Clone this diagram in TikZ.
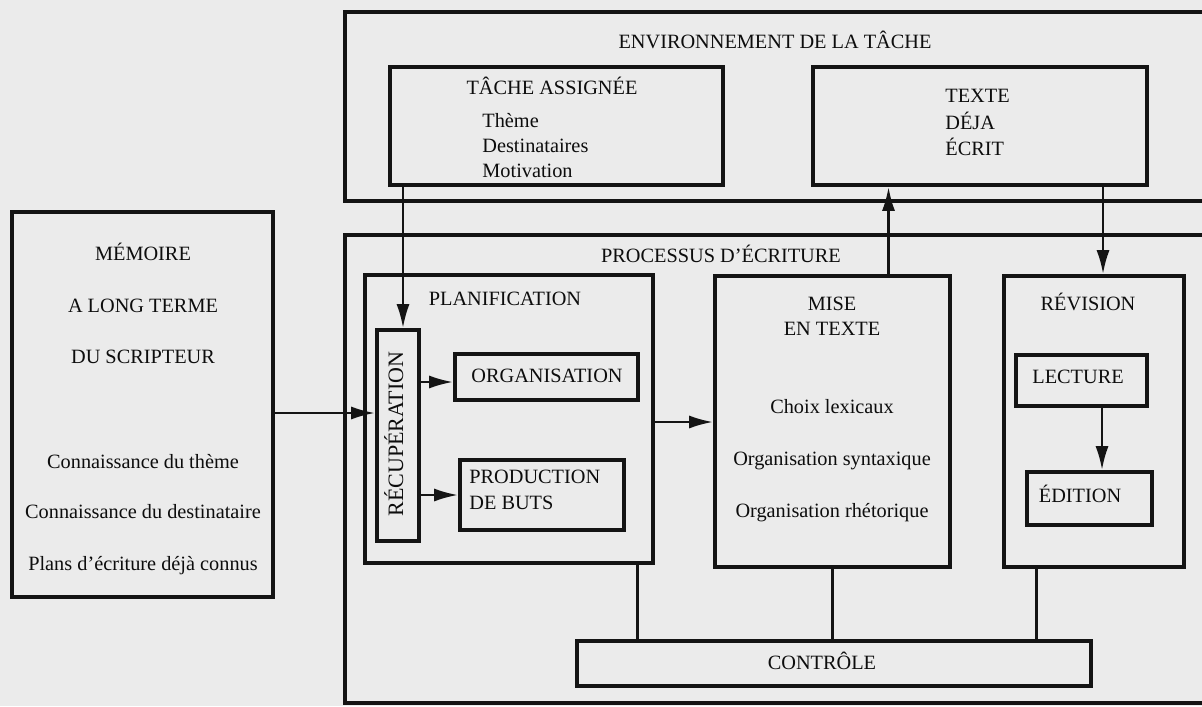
\documentclass[tikz,border=0pt]{standalone}
\usepackage{fontspec}
\setmainfont{Liberation Serif}
\usetikzlibrary{fit,arrows.meta,calc}
\begin{document}
\begin{tikzpicture}[x=0.5pt,y=-0.5pt,
  box/.style={draw=black!92, line width=1.8pt, inner sep=0pt},
  outer/.style={draw=black!92, line width=2pt},
  lbl/.style={inner sep=0pt, text=black!95, font=\fontsize{10.15}{12}\selectfont, text height=0.7em, text depth=0.2em},
  arr/.style={draw=black!92, line width=1.35pt, -{Latex[length=12pt,width=6.5pt]}},
  ln/.style={draw=black!92, line width=1.35pt}]
\fill[black!8] (0,0) rectangle (1202,706);
\useasboundingbox (0,0) rectangle (1202,706);

% environment of the task
\draw[outer] (1202,12) -- (345,12) -- (345,201) -- (1202,201);
\node[lbl] (envtitle) at (775,44) {ENVIRONNEMENT DE LA TÂCHE};

\node[box, fit={(390,67) (723,185)}] (tache) {};
\node[lbl] (tachetitle) at (552,90) {TÂCHE ASSIGNÉE};
\node[lbl, anchor=west] (theme) at (482,122) {Thème};
\node[lbl, anchor=west] (dest) at (482,147) {Destinataires};
\node[lbl, anchor=west] (motiv) at (482,172) {Motivation};

\node[box, fit={(813,67) (1147,185)}] (texte) {};
\node[lbl, anchor=west] (t1) at (945,98) {TEXTE};
\node[lbl, anchor=west] (t2) at (945,124) {DÉJA};
\node[lbl, anchor=west] (t3) at (945,150) {ÉCRIT};

% long term memory
\node[box, fit={(12,212) (273,597)}] (memoire) {};
\node[lbl] (m1) at (143,255) {MÉMOIRE};
\node[lbl] (m2) at (143,307) {A LONG TERME};
\node[lbl] (m3) at (143,358) {DU SCRIPTEUR};
\node[lbl] (m4) at (143,463) {Connaissance du thème};
\node[lbl] (m5) at (143,513) {Connaissance du destinataire};
\node[lbl] (m6) at (143,565) {Plans d'écriture déjà connus};

% writing process
\draw[outer] (1202,235) -- (345,235) -- (345,703) -- (1202,703);
\node[lbl] (proctitle) at (721,257) {PROCESSUS D'ÉCRITURE};

\node[box, fit={(365,275) (653,563)}] (planif) {};
\node[lbl] (planiftitle) at (505,300) {PLANIFICATION};
\node[box, fit={(377,330) (419,541)}] (recup) {};
\node[lbl, rotate=90, font=\fontsize{11}{13}\selectfont] (recuptxt) at (398,434) {RÉCUPÉRATION};
\node[box, fit={(455,354) (638,400)}] (org) {};
\node[lbl] (orgtxt) at (547,377) {ORGANISATION};
\node[box, fit={(460,460) (624,530)}] (prod) {};
\node[lbl, anchor=west] (prod1) at (469,478) {PRODUCTION};
\node[lbl, anchor=west] (prod2) at (469,504) {DE BUTS};

\node[box, fit={(715,276) (950,567)}] (mise) {};
\node[lbl] (mise1) at (832,305) {MISE};
\node[lbl] (mise2) at (832,330) {EN TEXTE};
\node[lbl] (mise3) at (832,408) {Choix lexicaux};
\node[lbl] (mise4) at (832,460) {Organisation syntaxique};
\node[lbl] (mise5) at (832,512) {Organisation rhétorique};

\node[box, fit={(1004,276) (1184,567)}] (revision) {};
\node[lbl] (revtitle) at (1088,305) {RÉVISION};
\node[box, fit={(1016,355) (1147,406)}] (lecture) {};
\node[lbl] (lecttxt) at (1078,378) {LECTURE};
\node[box, fit={(1027,472) (1152,525)}] (edition) {};
\node[lbl] (edtxt) at (1080,497) {ÉDITION};

\node[box, fit={(577,641) (1091,686)}] (controle) {};
\node[lbl] (ctrltxt) at (822,664) {CONTRÔLE};

% connectors
\draw[arr] ([xshift=2.5pt]recup.north |- tache.south) -- ([xshift=2.5pt]recup.north);
\draw[arr] ([yshift=-4.25pt]memoire.east) -- ([yshift=-4.25pt]memoire.east -| recup.west);
\draw[arr] ([yshift=-2.5pt]recup.east |- org.west) -- ([yshift=-2.5pt]org.west);
\draw[arr] (recup.east |- prod.west) -- (prod.west);
\draw[arr] ([yshift=-1.5pt]planif.east) -- ([yshift=-1.5pt]planif.east -| mise.west);
\draw[arr] ([xshift=28pt]mise.north) -- ([xshift=28pt]mise.north |- texte.south);
\draw[arr] ([xshift=4.5pt]revision.north |- texte.south) -- ([xshift=4.5pt]revision.north);
\draw[arr] ([xshift=10.25pt]lecture.south) -- ([xshift=10.25pt]lecture.south |- edition.north);
\draw[ln] ([xshift=-8.5pt]planif.south east) -- ([xshift=-8.5pt]planif.south east |- controle.north);
\draw[ln] (mise.south) -- (mise.south |- controle.north);
\draw[ln] ([xshift=17pt]revision.south west) -- ([xshift=17pt]revision.south west |- controle.north);
\end{tikzpicture}
\end{document}
